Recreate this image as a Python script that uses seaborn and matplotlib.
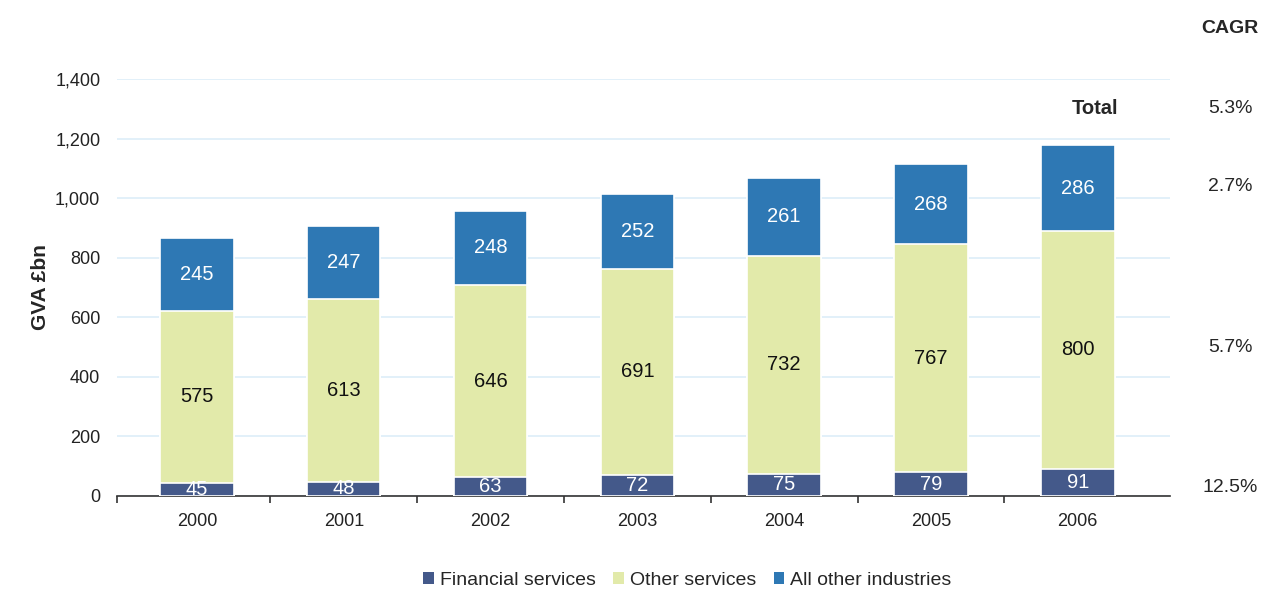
import numpy as np
import pandas as pd
import matplotlib
matplotlib.use("Agg")
import matplotlib.pyplot as plt
import seaborn as sns
from matplotlib.patches import Patch
from matplotlib.ticker import FuncFormatter, FixedLocator

years = ["2000", "2001", "2002", "2003", "2004", "2005", "2006"]
financial = [45, 48, 63, 72, 75, 79, 91]
other_services = [575, 613, 646, 691, 732, 767, 800]
all_other = [245, 247, 248, 252, 261, 268, 286]

series_names = ["Financial services", "Other services", "All other industries"]
series_colors = ["#44598a", "#e2eaaa", "#2e78b4"]
label_colors = ["white", "#111111", "white"]

cagr_labels = ["5.3%", "2.7%", "5.7%", "12.5%"]
cagr_levels = [1300, 1040, 497, 30]

sns.set_theme(style="white")
plt.rcParams["font.family"] = ["Liberation Sans", "DejaVu Sans"]

df = pd.DataFrame({"year": years, "fin": financial, "oth": other_services, "rest": all_other})
df["c1"] = df["fin"]
df["c2"] = df["fin"] + df["oth"]
df["c3"] = df["c2"] + df["rest"]

fig = plt.figure(figsize=(12.66, 5.96), dpi=100)
ax = fig.add_axes([0.0924, 0.1678, 0.832, 0.6996])

# stack by overdrawing cumulative heights, tallest first
for col, color in zip(["c3", "c2", "c1"], series_colors[::-1]):
    sns.barplot(data=df, x="year", y=col, color=color, width=0.5,
                edgecolor="white", linewidth=1.2, saturation=1, ax=ax, zorder=3)

# segment labels
segs = [df["fin"], df["oth"], df["rest"]]
bottoms = [np.zeros(len(df)), df["c1"].to_numpy(), df["c2"].to_numpy()]
for vals, base, tc in zip(segs, bottoms, label_colors):
    for i, (v, b) in enumerate(zip(vals, base)):
        ax.text(i, b + v / 2, f"{v}", ha="center", va="center", fontsize=14.5,
                color=tc, zorder=5)

ax.set_ylim(0, 1400)
ax.set_xlim(-0.545, 6.63)
ax.set_yticks(np.arange(0, 1401, 200))
ax.yaxis.set_major_formatter(FuncFormatter(lambda v, p: f"{int(v):,}"))
ax.grid(axis="y", color="#ddeef8", linewidth=1.2, zorder=0)
ax.grid(axis="x", visible=False)
for s in ["top", "right", "left"]:
    ax.spines[s].set_visible(False)
ax.spines["bottom"].set_color("#333333")
ax.spines["bottom"].set_linewidth(1.2)

ax.tick_params(axis="y", length=0, labelsize=13, pad=12, colors="#222222")
ax.tick_params(axis="x", which="major", length=0, labelsize=13, pad=12, colors="#222222")
ax.xaxis.set_minor_locator(FixedLocator([-0.545] + [i + 0.5 for i in range(6)]))
ax.tick_params(axis="x", which="minor", bottom=True, length=5, width=1.2,
               color="#333333", direction="out")

ax.set_xlabel("")
ax.set_ylabel("GVA £bn", fontsize=15, fontweight="bold", labelpad=4)

# Total / CAGR annotations on the right
ax.text(6.12, 1300, "Total", ha="center", va="center", fontsize=14.5, fontweight="bold")
yt = ax.get_yaxis_transform()
ax.text(1.057, 1570, "CAGR", transform=yt, ha="center", va="center",
        fontsize=14, fontweight="bold", clip_on=False)
for lab, lev in zip(cagr_labels, cagr_levels):
    ax.text(1.057, lev, lab, transform=yt, ha="center", va="center",
            fontsize=14, clip_on=False)

handles = [Patch(facecolor=c, edgecolor="none") for c in series_colors]
fig.legend(handles, series_names, loc="lower center", bbox_to_anchor=(0.543, -0.018),
           ncol=3, frameon=False, fontsize=14, handlelength=0.55, handleheight=0.55,
           handletextpad=0.3, columnspacing=0.9)

fig.savefig("out.png", dpi=100)
